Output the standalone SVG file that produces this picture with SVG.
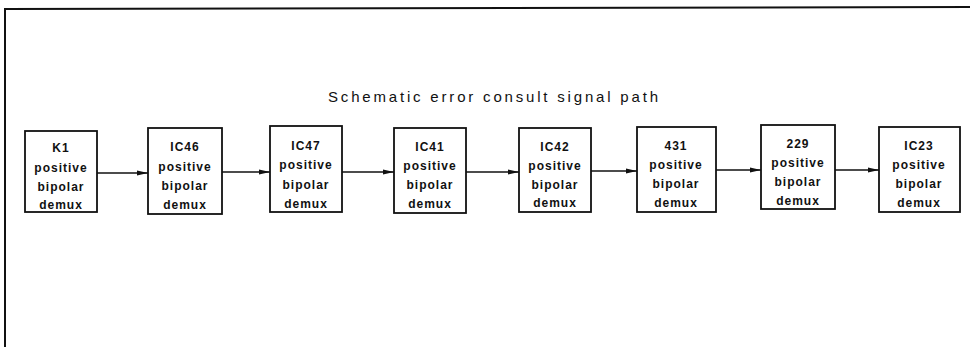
<svg xmlns="http://www.w3.org/2000/svg" width="970" height="347" viewBox="0 0 970 347">
  <style>
    .frame { fill: none; stroke: #111; stroke-width: 2; }
    .box { fill: #fff; stroke: #111; stroke-width: 1.8; }
    .wire { fill: none; stroke: #111; stroke-width: 1.5; }
    .lbl { font-family: "Liberation Sans", Arial, sans-serif; font-size: 12px; font-weight: bold; fill: #111; text-anchor: middle; letter-spacing: 1px; }
    .title { font-family: "Liberation Sans", Arial, sans-serif; font-size: 15px; fill: #111; }
  </style>
  <defs>
    <marker id="arrow" viewBox="0 0 11 7" refX="11" refY="3.5" markerWidth="11" markerHeight="7" markerUnits="userSpaceOnUse" orient="auto">
      <path d="M0,1 L11,3.5 L0,6 z" fill="#111"/>
    </marker>
  </defs>
  <rect width="970" height="347" fill="#fff"/>

  <!-- sheet border: top and left edges only -->
  <path class="frame" d="M5,347 L5,9 L970,7"/>

  <text class="title" x="328" y="102" textLength="330" lengthAdjust="spacing">Schematic error consult signal path</text>

  <g id="connectors">
    <line class="wire" x1="97" y1="173" x2="148" y2="173" marker-end="url(#arrow)"/>
    <line class="wire" x1="222" y1="172" x2="270" y2="172" marker-end="url(#arrow)"/>
    <line class="wire" x1="342" y1="172" x2="394" y2="172" marker-end="url(#arrow)"/>
    <line class="wire" x1="466" y1="172" x2="519" y2="172" marker-end="url(#arrow)"/>
    <line class="wire" x1="591" y1="171" x2="637" y2="171" marker-end="url(#arrow)"/>
    <line class="wire" x1="716" y1="170" x2="761" y2="170" marker-end="url(#arrow)"/>
    <line class="wire" x1="835" y1="170" x2="879" y2="170" marker-end="url(#arrow)"/>
  </g>

  <g id="k1">
    <rect class="box" x="25" y="131" width="72" height="81"/>
    <text class="lbl" x="61" y="152">K1</text>
    <text class="lbl" x="61" y="172">positive</text>
    <text class="lbl" x="61" y="191">bipolar</text>
    <text class="lbl" x="61" y="209">demux</text>
  </g>
  <g id="ic46">
    <rect class="box" x="148" y="128" width="74" height="86"/>
    <text class="lbl" x="185" y="151">IC46</text>
    <text class="lbl" x="185" y="171">positive</text>
    <text class="lbl" x="185" y="190">bipolar</text>
    <text class="lbl" x="185" y="209">demux</text>
  </g>
  <g id="ic47">
    <rect class="box" x="270" y="126" width="72" height="86"/>
    <text class="lbl" x="306" y="150">IC47</text>
    <text class="lbl" x="306" y="169">positive</text>
    <text class="lbl" x="306" y="189">bipolar</text>
    <text class="lbl" x="306" y="208">demux</text>
  </g>
  <g id="ic41">
    <rect class="box" x="394" y="128" width="72" height="85"/>
    <text class="lbl" x="430" y="151">IC41</text>
    <text class="lbl" x="430" y="170">positive</text>
    <text class="lbl" x="430" y="189">bipolar</text>
    <text class="lbl" x="430" y="208">demux</text>
  </g>
  <g id="ic42">
    <rect class="box" x="519" y="128" width="72" height="84"/>
    <text class="lbl" x="555" y="151">IC42</text>
    <text class="lbl" x="555" y="170">positive</text>
    <text class="lbl" x="555" y="189">bipolar</text>
    <text class="lbl" x="555" y="207">demux</text>
  </g>
  <g id="n431">
    <rect class="box" x="637" y="127" width="79" height="85"/>
    <text class="lbl" x="676" y="150">431</text>
    <text class="lbl" x="676" y="169">positive</text>
    <text class="lbl" x="676" y="188">bipolar</text>
    <text class="lbl" x="676" y="207">demux</text>
  </g>
  <g id="n229">
    <rect class="box" x="761" y="125" width="74" height="84"/>
    <text class="lbl" x="798" y="148">229</text>
    <text class="lbl" x="798" y="167">positive</text>
    <text class="lbl" x="798" y="186">bipolar</text>
    <text class="lbl" x="798" y="205">demux</text>
  </g>
  <g id="ic23">
    <rect class="box" x="879" y="127" width="81" height="85"/>
    <text class="lbl" x="919" y="150">IC23</text>
    <text class="lbl" x="919" y="169">positive</text>
    <text class="lbl" x="919" y="188">bipolar</text>
    <text class="lbl" x="919" y="207">demux</text>
  </g>
</svg>
